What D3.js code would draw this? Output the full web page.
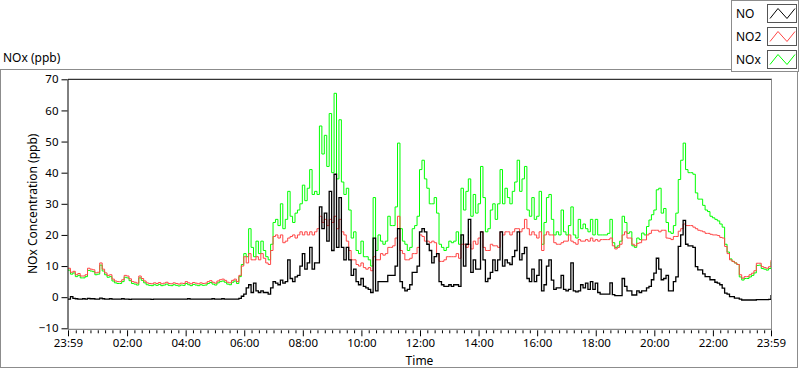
<!DOCTYPE html>
<html><head><meta charset="utf-8">
<script src="https://cdn.jsdelivr.net/npm/d3@7"></script>
<style>
body{margin:0;background:#fff}
svg{display:block}
text{font-family:"Noto Sans",sans-serif;fill:#000}
</style>
</head><body>
<svg id="chart" width="800" height="369"></svg>
<script>
// ---- data (5-minute samples starting 23:59) ----
const startLabel = "23:59";
const stepMinutes = 5;

const NO = [
-0.6,0.2,-0.4,-0.5,-0.6,-0.6,-0.5,-0.6,-0.4,-0.5,
-0.5,-0.6,-0.6,-0.3,-0.5,-0.6,-0.6,-0.5,-0.6,-0.6,
-0.6,-0.6,-0.5,-0.6,-0.6,-0.7,-0.6,-0.6,-0.6,-0.6,
-0.6,-0.6,-0.6,-0.6,-0.7,-0.6,-0.6,-0.6,-0.6,-0.6,
-0.6,-0.6,-0.6,-0.6,-0.6,-0.6,-0.6,-0.6,-0.6,-0.5,
-0.6,-0.6,-0.6,-0.6,-0.6,-0.6,-0.6,-0.6,-0.6,-0.5,
-0.6,-0.6,-0.6,-0.5,-0.6,-0.6,-0.6,-0.6,-0.6,-0.6,
-0.4,
0.3,1,3,4,1.5,4.5,2,1.5,2,1.5,
1.5,1,3,5,4.5,4,5.5,4.5,5,12,
6,5,6.5,7,10,14,9,11,16,9,
11,11,29,22,27,18,34,15,39.5,16,
32,16,12,16,12,7,9,5,4,6,
3.5,3,2.5,1.5,19,2,5,5,5,5,
7,7,7,10,22,5,3,2,2.5,4,
8,8,10,21,22,21,17,15,11,13,
14,5,4,3.5,3.5,4,3.5,4,4,3.5,
20,10,17,25,8,12,9,9,21,12,
5,6,8,12,8.5,12,21,10,12,11,
10.5,13,15,21,12,14,16,6,5,9,
5,7,12,2,4,10,12,5.5,2.5,3,
3,7,2.5,2,2.5,11,2,1.7,2,4,
3,4.5,2.5,5,2.5,4.5,1.5,1,1,1,
1,4.6,0.8,0.5,0.5,0.5,6,3.5,2,2,
0.7,0.7,2,1.5,2,2,3,3.5,5.6,7.7,
12.5,9,5.6,6,7,2,2,5,6.5,16.3,
20,24.7,17,16.5,16.5,16,9.8,8.8,8.8,7.5,
6.6,6.6,5.6,5.6,4.8,4.5,4,2.9,1.3,1,
0.2,0.2,-0.3,-0.3,-0.6,-0.9,-0.9,-0.9,-0.9,-0.9,
-0.9,-0.8,-0.8,-0.8,-0.8,-0.8,-0.7,0.7
];

const NO2 = [
9.3,8.0,8.3,7.2,7.6,6.8,6.8,7.2,9.3,9.0,
8.8,7.8,8.0,11.0,9.0,7.8,7.0,7.2,5.8,5.2,
5.0,5.0,5.6,7.0,6.8,5.9,5.0,4.8,4.5,6.8,
6.0,5.2,4.6,4.4,4.3,4.6,4.4,4.7,4.3,4.5,
4.8,4.4,4.3,4.6,4.4,4.2,4.5,4.4,5.0,4.6,
4.3,4.7,4.5,4.3,4.6,4.4,4.5,5.0,5.3,4.8,
4.5,5.2,5.6,5.8,5.4,4.8,4.6,5.4,5.8,5.0,
7.0,
10,13,11,14,12,12,13,12,14,12.5,
11,10.5,15,19.5,20,19,20,17.5,18,19,
19.5,20,19,20,21,20,21,20,21,20,
21,22,26,24,25,23,25,24,26,22,
25,21,20,18,15,12,12,10.5,10,11,
9.5,9,9.5,8.5,13,12,12,14,13.5,14,
16,16,16.5,19,26,15,14,12,12,12.5,
14,14,16,20,19.5,18,18,17.5,18,17.5,
14,11.5,11.5,12,13,13,13,13,14,12.5,
17,17,16,17,15.5,18,17,19,21,16,
15,15,17,16.5,16.5,16,21,20,21,21,
20,21,22,22,21,22,25,22,20,21,
20,19,21,15,20,21,20,20,17.5,17,
17,17.5,18,18,20,18,17.5,17,18.5,18,
18,18.5,18,19,18,18.5,18,18.5,18.5,18.5,
18.5,19,16.5,15.5,16,17,20,21,19,19,
17,16.5,17.3,17.5,18.4,18.4,20,20.5,21.5,21.5,
21.5,21,21.5,21.5,19,18.9,18.5,19.5,19.5,21.2,
22,23.5,23,23,23,22.5,22,21.5,21.3,21,
20.5,20.5,20.2,20,20,19.8,19.2,19,16.3,14,
12,11.5,11,10.5,7.2,6.1,6.6,6.6,7.2,7.7,
8.5,10.9,10.9,9.8,9.5,9.3,9.8,11.9
];

const NOx = [
8.7,7.4,7.8,6.6,7.0,6.2,6.2,6.6,8.6,8.4,
8.2,7.2,7.4,10.3,8.4,7.2,6.4,6.6,5.2,4.6,
4.4,4.4,5.0,6.4,6.2,5.3,4.4,4.2,3.9,6.2,
5.4,4.6,4.0,3.8,3.7,4.0,3.8,4.1,3.7,3.9,
4.2,3.8,3.7,4.0,3.8,3.6,3.9,3.8,4.4,4.0,
3.7,4.1,3.9,3.7,4.0,3.8,3.9,4.4,4.7,4.2,
3.9,4.6,5.0,5.2,4.8,4.2,4.0,4.8,5.2,4.4,
6.6,
10.5,14,13,22,16,13,18,14,18,15,
13,12,17,24,25,23,30,22,25,34,
26,24,27,28,30,36,31,35,41,33,
34,33,55,46,52,42,59,40,65.5,38,
57,37,33,35,28,19,21,15,14,18,
13,13,12,10,32,15,20,18,17,18,
26,23,23,29,49.5,22,18,17,15,16,
22,23,26,41,44,38,35,30,30,32,
27,17,16,15,16,18,17.5,18,21,17,
35,28,34,38,26,33,27,30,42,32,
21,22,28,30,25,30,41,30,35,32,
30,34,37,44,34,38,42,28,26,32,
25,26,34,17,24,32,33,25,20,21,
20,28,21,20,23,29,20,19,25,22,
23.5,22,21,25,20,25,20,20,20,20,
20.5,25,17.5,16,16.5,18,26,24,20.5,21,
16.5,16,19,18.5,20.6,20,22.7,24.8,26.5,28,
34.5,35,27,28.5,24,21,20.5,23,27,37.8,
44,49.5,41,40,40,39.5,33.5,31.5,31.5,29.5,
28,27.5,26,25.5,25,24.5,23.5,22.5,17,14.5,
12.3,11.5,11,10.5,6.5,5.5,6.0,6.0,6.5,7.0,
7.8,10.2,10.3,9.2,9.0,8.7,9.2,11.4
];

const seriesNames = ["NO", "NO2", "NOx"];
const seriesColors = ["#000000", "#ff4545", "#00ff00"];
const yTicks = [-10, 0, 10, 20, 30, 40, 50, 60, 70];
const xTickMinutes = [0, 121, 241, 361, 481, 601, 721, 841, 961, 1081, 1201, 1321, 1440];
const xTickLabels = ["23:59","02:00","04:00","06:00","08:00","10:00","12:00","14:00","16:00","18:00","20:00","22:00","23:59"];
const chartTitle = "NOx (ppb)";
const yLabel = "NOx Concentration (ppb)";
const xLabel = "Time";

// ---- drawing ----
const svg = d3.select("#chart");
const L = 68, R = 771, T = 79.3, B = 328.3;
const x = d3.scaleLinear().domain([0, 1440]).range([L, R]);
const y = d3.scaleLinear().domain([-10, 70]).range([B, T]);

// outer panel
svg.append("rect").attr("x", 0.5).attr("y", 69.5).attr("width", 797).attr("height", 298)
  .attr("fill", "#fff").attr("stroke", "#8c8c8c");

svg.append("text").attr("x", 3).attr("y", 62).attr("font-size", 12).text(chartTitle);

// clip
svg.append("clipPath").attr("id", "clip").append("rect")
  .attr("x", L).attr("y", T).attr("width", R - L).attr("height", B - T);

const seriesData = [NO, NO2, NOx];
const line = d3.line()
  .x((d, i) => x(i * stepMinutes))
  .y(d => y(d))
  .curve(d3.curveStepAfter);

const g = svg.append("g").attr("clip-path", "url(#clip)");
[2, 1, 0].forEach(si => {
  g.append("path").datum(seriesData[si])
    .attr("fill", "none")
    .attr("stroke", seriesColors[si])
    .attr("stroke-width", si === 0 ? 1.3 : 1)
    .attr("d", line);
});

// frame
svg.append("line").attr("x1", L).attr("x2", R + 1).attr("y1", T).attr("y2", T).attr("stroke", "#000");
svg.append("line").attr("x1", L).attr("x2", L).attr("y1", T).attr("y2", B + 1).attr("stroke", "#000");
svg.append("line").attr("x1", R + 0.5).attr("x2", R + 0.5).attr("y1", T).attr("y2", B + 1).attr("stroke", "#8c8c8c");
svg.append("line").attr("x1", L).attr("x2", R + 1).attr("y1", B + 1).attr("y2", B + 1).attr("stroke", "#707070");

// y axis
const yAxis = d3.axisLeft(y).tickValues(yTicks).tickSize(6).tickPadding(3);
const ya = svg.append("g").attr("transform", `translate(${L - 0.5},0)`).call(yAxis);
ya.select(".domain").remove();
ya.selectAll("text").attr("font-size", 11.5).attr("font-family", "Noto Sans").attr("fill", "#000");
ya.selectAll("line").attr("stroke", "#000");

// x axis minor ticks
const minor = d3.range(16, 1440, 15).filter(m => !xTickMinutes.includes(m));
const xMinor = d3.axisBottom(x).tickValues(minor).tickSize(3).tickFormat("");
const xm = svg.append("g").attr("transform", `translate(0,${B + 2})`).call(xMinor);
xm.select(".domain").remove();
xm.selectAll("line").attr("stroke", "#000");

const xAxis = d3.axisBottom(x).tickValues(xTickMinutes).tickSize(6).tickPadding(3)
  .tickFormat((d, i) => xTickLabels[i]);
const xa = svg.append("g").attr("transform", `translate(0,${B + 2})`).call(xAxis);
xa.select(".domain").remove();
xa.selectAll("line").attr("stroke", "#000");
xa.selectAll("text").attr("font-size", 11.5).attr("font-family", "Noto Sans").attr("fill", "#000");

svg.append("text").attr("x", (L + R) / 2).attr("y", 365).attr("text-anchor", "middle")
  .attr("font-size", 12).text(xLabel);

svg.append("text").attr("transform", `translate(37,${(T + B) / 2}) rotate(-90)`)
  .attr("text-anchor", "middle").attr("font-size", 12).attr("fill", "#1c1c40").text(yLabel);

// legend
svg.append("rect").attr("x", 731.5).attr("y", 0.5).attr("width", 67).attr("height", 71)
  .attr("fill", "#fff").attr("stroke", "#8c8c8c");
const legTop = [4.5, 27.5, 50.5];
seriesNames.forEach((name, i) => {
  const ty = legTop[i];
  svg.append("text").attr("x", 736).attr("y", ty + 13).attr("font-size", 12).text(name);
  svg.append("rect").attr("x", 767.5).attr("y", ty).attr("width", 29).attr("height", 18)
    .attr("fill", "#fff").attr("stroke", "#555");
  const zz = [[770, ty + 14], [778, ty + 4], [787, ty + 14], [795, ty + 4]];
  svg.append("path").attr("d", d3.line()(zz)).attr("fill", "none")
    .attr("stroke", seriesColors[i]).attr("stroke-width", 1);
});
</script>
</body></html>
